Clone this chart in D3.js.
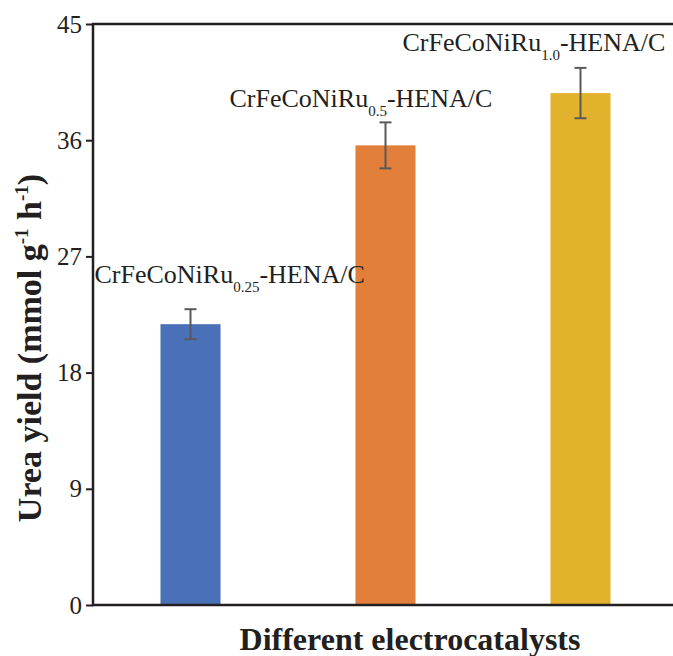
<!DOCTYPE html>
<html>
<head>
<meta charset="utf-8">
<script src="https://d3js.org/d3.v7.min.js"></script>
<style>
  body { margin: 0; background: #fff; }
  svg text { font-family: "Liberation Serif", "Times New Roman", serif; }
</style>
</head>
<body>
<svg id="mainSvg" width="673" height="656"></svg>
<script>
// data
var catalysts = ["CrFeCoNiRu0.25-HENA/C", "CrFeCoNiRu0.5-HENA/C", "CrFeCoNiRu1.0-HENA/C"];
var labelMain = ["CrFeCoNiRu", "CrFeCoNiRu", "CrFeCoNiRu"];
var labelSub = ["0.25", "0.5", "1.0"];
var labelTail = ["-HENA/C", "-HENA/C", "-HENA/C"];
var ureaYield = [21.75, 35.6, 39.65];
var yieldErr = [1.16, 1.78, 1.95];
var barColors = ["#4a71b7", "#e27f3a", "#e3b22d"];
var yTicks = [0, 9, 18, 27, 36, 45];

var serif = "'Liberation Serif', 'Times New Roman', serif";

var margin = {top: 24, left: 93},
    width = 585,
    height = 581;

var svg = d3.select("#mainSvg");
var g = svg.append("g")
    .attr("transform", "translate(" + margin.left + "," + margin.top + ")");

var x = d3.scaleBand()
    .domain(catalysts)
    .range([0, width])
    .paddingInner(0.692)
    .paddingOuter(0.346);

var y = d3.scaleLinear()
    .domain([0, 45])
    .range([height, 0]);

// bars
g.selectAll(".bar")
  .data(catalysts)
  .enter().append("rect")
  .attr("class", "bar")
  .attr("x", function(d) { return x(d); })
  .attr("width", x.bandwidth())
  .attr("y", function(d, i) { return y(ureaYield[i]); })
  .attr("height", function(d, i) { return height - y(ureaYield[i]); })
  .attr("fill", function(d, i) { return barColors[i]; });

// error bars
var err = g.selectAll(".err")
  .data(catalysts)
  .enter().append("g")
  .attr("class", "err")
  .attr("stroke", "#595959")
  .attr("stroke-width", 2);
err.append("line")
  .attr("x1", function(d) { return x(d) + x.bandwidth() / 2; })
  .attr("x2", function(d) { return x(d) + x.bandwidth() / 2; })
  .attr("y1", function(d, i) { return y(ureaYield[i] + yieldErr[i]); })
  .attr("y2", function(d, i) { return y(ureaYield[i] - yieldErr[i]); });
[1, -1].forEach(function(s) {
  err.append("line")
    .attr("x1", function(d) { return x(d) + x.bandwidth() / 2 - 6; })
    .attr("x2", function(d) { return x(d) + x.bandwidth() / 2 + 6; })
    .attr("y1", function(d, i) { return y(ureaYield[i] + s * yieldErr[i]); })
    .attr("y2", function(d, i) { return y(ureaYield[i] + s * yieldErr[i]); });
});

// bar labels (left edge offset from bar centre, rise above error cap)
var labelDx = [-96, -156, -178];
var labelRise = [26, 15, 17];
var lab = g.selectAll(".lab")
  .data(catalysts)
  .enter().append("text")
  .attr("class", "lab")
  .attr("x", function(d, i) { return x(d) + x.bandwidth() / 2 + labelDx[i]; })
  .attr("y", function(d, i) { return y(ureaYield[i] + yieldErr[i]) - labelRise[i]; })
  .style("font-family", serif)
  .style("font-size", "26px")
  .attr("fill", "#231f20");
lab.append("tspan").text(function(d, i) { return labelMain[i]; });
lab.append("tspan")
  .attr("dy", 9)
  .style("font-size", "15px")
  .text(function(d, i) { return labelSub[i]; });
lab.append("tspan")
  .attr("dy", -9)
  .text(function(d, i) { return labelTail[i]; });

// axes
var yAxis = g.append("g")
  .call(d3.axisLeft(y).tickValues(yTicks).tickSize(7).tickPadding(4))
  .attr("font-family", serif);
yAxis.select(".domain").remove();
yAxis.selectAll(".tick line").attr("stroke", "#231f20").attr("stroke-width", 2);
yAxis.selectAll(".tick text")
  .attr("fill", "#231f20")
  .style("font-family", serif)
  .style("font-size", "25px");

// frame
g.append("rect")
  .attr("x", 0).attr("y", 0)
  .attr("width", width).attr("height", height)
  .attr("fill", "none")
  .attr("stroke", "#231f20")
  .attr("stroke-width", 2.5);

// axis titles
g.append("text")
  .attr("transform", "translate(-52," + (348 - margin.top) + ") rotate(-90)")
  .style("text-anchor", "middle")
  .style("font-family", serif)
  .style("font-size", "34px")
  .style("font-weight", "bold")
  .attr("fill", "#231f20")
  .html("Urea yield (mmol g<tspan dy='-13' font-size='19px'>-1</tspan><tspan dy='13'> h</tspan><tspan dy='-13' font-size='19px'>-1</tspan><tspan dy='13'>)</tspan>");

g.append("text")
  .attr("x", 410 - margin.left)
  .attr("y", 650 - margin.top)
  .style("text-anchor", "middle")
  .style("font-family", serif)
  .style("font-size", "32px")
  .style("font-weight", "bold")
  .attr("fill", "#231f20")
  .text("Different electrocatalysts");
</script>
</body>
</html>
